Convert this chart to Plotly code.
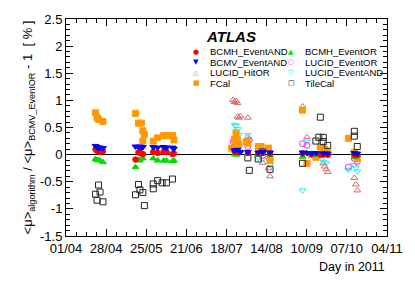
import plotly.graph_objects as go
from datetime import datetime, timedelta

# ---------------- data ----------------
bcmh_and_dates = ["2011-04-21", "2011-04-22", "2011-04-23", "2011-04-24", "2011-04-26",
                  "2011-05-18", "2011-05-20", "2011-05-21", "2011-05-22", "2011-05-23", "2011-05-30",
                  "2011-06-02", "2011-06-06", "2011-06-08", "2011-06-12", "2011-06-13",
                  "2011-07-24", "2011-07-25", "2011-07-27", "2011-08-02", "2011-08-09", "2011-08-12", "2011-08-17",
                  "2011-09-08", "2011-09-14", "2011-09-20", "2011-09-22", "2011-09-25",
                  "2011-10-13", "2011-10-15"]
bcmh_and_vals = [0.10, 0.07, 0.06, 0.05, 0.06,
                 -0.09, 0.04, 0.04, 0.02, 0.01, 0.05,
                 0.03, 0.05, 0.05, 0.01, 0.02,
                 0.06, 0.05, 0.04, 0.03, 0.02, 0.03, 0.02,
                 0.02, 0.01, 0.00, 0.01, 0.00,
                 0.00, -0.01]

bcmh_or_dates = ["2011-04-21", "2011-04-22", "2011-04-23", "2011-04-24", "2011-04-26",
                 "2011-05-18", "2011-05-20", "2011-05-21", "2011-05-23", "2011-05-30",
                 "2011-06-02", "2011-06-06", "2011-06-08", "2011-06-12", "2011-06-13",
                 "2011-07-24", "2011-07-25", "2011-08-02", "2011-08-09", "2011-08-17",
                 "2011-09-08", "2011-09-11", "2011-09-17", "2011-09-22",
                 "2011-10-13", "2011-10-15"]
bcmh_or_vals = [-0.08, -0.10, -0.10, -0.11, -0.14,
                -0.23, -0.11, -0.10, -0.07, -0.07,
                -0.11, -0.11, -0.11, -0.12, -0.11,
                0.01, 0.00, 0.02, 0.00, -0.01,
                -0.04, 0.03, 0.00, 0.01,
                -0.05, 0.00]

bcmv_and_dates = ["2011-04-21", "2011-04-22", "2011-04-23", "2011-04-24", "2011-04-26",
                  "2011-05-18", "2011-05-20", "2011-05-21", "2011-05-22", "2011-05-23", "2011-05-30",
                  "2011-06-02", "2011-06-06", "2011-06-08", "2011-06-12", "2011-06-13",
                  "2011-07-24", "2011-07-26", "2011-07-28", "2011-08-02", "2011-08-09", "2011-08-12", "2011-08-17",
                  "2011-09-08", "2011-09-11", "2011-09-14", "2011-09-17", "2011-09-22", "2011-09-25",
                  "2011-10-13", "2011-10-15"]
bcmv_and_vals = [0.16, 0.14, 0.12, 0.13, 0.12,
                 0.15, 0.14, 0.15, 0.13, 0.14, 0.14,
                 0.13, 0.14, 0.13, 0.13, 0.11,
                 0.08, 0.09, 0.05, 0.05, 0.04, 0.05, 0.04,
                 0.04, 0.03, 0.02, 0.03, 0.02, 0.02,
                 0.03, 0.02]

lucid_or_dates = ["2011-07-23", "2011-07-24", "2011-08-03", "2011-08-02", "2011-08-12", "2011-08-17",
                  "2011-09-08", "2011-09-11", "2011-09-20", "2011-09-22", "2011-09-25",
                  "2011-10-09", "2011-10-13", "2011-10-15"]
lucid_or_vals = [0.24, 0.15, 0.27, 0.15, -0.02, -0.09,
                 0.20, 0.17, 0.00, 0.00, 0.00,
                 -0.23, -0.07, -0.13]

lucid_hitor_dates = ["2011-07-23", "2011-07-24", "2011-07-25", "2011-07-26", "2011-07-26", "2011-07-28",
                     "2011-07-27", "2011-08-02", "2011-08-02", "2011-08-12", "2011-08-16", "2011-08-17",
                     "2011-09-08", "2011-09-11", "2011-09-22", "2011-09-23", "2011-09-24", "2011-09-25",
                     "2011-10-13", "2011-10-14", "2011-10-15"]
lucid_hitor_vals = [1.01, 0.97, 0.99, 0.95, 0.70, 0.71,
                    0.68, 0.68, 0.32, -0.15, -0.25, -0.40,
                    0.89, 0.32, -0.16, -0.22, -0.27, -0.32,
                    -0.43, -0.55, -0.66]

lucid_and_dates = ["2011-07-24", "2011-07-25", "2011-07-26", "2011-07-25", "2011-07-27", "2011-08-02",
                   "2011-08-09", "2011-08-12", "2011-08-17",
                   "2011-09-08", "2011-09-11", "2011-09-21", "2011-09-22", "2011-09-24",
                   "2011-10-09", "2011-10-13", "2011-10-14", "2011-10-15"]
lucid_and_vals = [0.55, 0.53, 0.47, 0.43, 0.37, 0.36,
                  -0.06, -0.09, -0.19,
                  -0.66, 0.24, -0.07, -0.13, -0.16,
                  -0.28, -0.19, -0.24, -0.31]

fcal_dates = ["2011-04-21", "2011-04-22", "2011-04-23", "2011-04-26",
              "2011-05-18", "2011-05-20", "2011-05-22", "2011-05-23", "2011-05-24", "2011-05-23",
              "2011-05-30", "2011-06-02", "2011-06-06", "2011-06-08", "2011-06-12", "2011-06-13",
              "2011-07-22", "2011-07-25", "2011-07-24", "2011-07-26", "2011-07-25", "2011-07-27",
              "2011-08-01", "2011-08-02", "2011-08-09", "2011-08-11", "2011-08-16", "2011-08-17",
              "2011-09-08", "2011-09-11", "2011-09-14", "2011-09-17", "2011-09-20", "2011-09-22",
              "2011-09-23", "2011-09-25",
              "2011-10-09", "2011-10-13", "2011-10-14", "2011-10-15"]
fcal_vals = [0.77, 0.68, 0.65, 0.61,
             0.76, 0.58, 0.58, 0.44, 0.37, 0.25,
             0.25, 0.31, 0.35, 0.35, 0.35, 0.27,
             0.12, 0.39, 0.28, 0.27, 0.21, 0.18,
             0.24, 0.21, 0.15, 0.15, 0.12, -0.10,
             0.82, -0.16, 0.00, -0.05, 0.14, 0.06,
             0.10, 0.04,
             0.30, 0.04, -0.01, -0.07]

tilecal_dates = ["2011-04-21", "2011-04-22", "2011-04-23", "2011-04-24", "2011-04-26",
                 "2011-05-18", "2011-05-20", "2011-05-21", "2011-05-23", "2011-05-24",
                 "2011-05-30", "2011-05-30", "2011-06-02", "2011-06-05", "2011-06-08", "2011-06-12",
                 "2011-08-02", "2011-08-03", "2011-08-09", "2011-08-12", "2011-08-17",
                 "2011-09-08", "2011-09-17", "2011-09-19", "2011-09-20", "2011-09-22", "2011-09-22",
                 "2011-09-25",
                 "2011-10-13", "2011-10-13", "2011-10-15"]
tilecal_vals = [-0.73, -0.84, -0.56, -0.69, -0.87,
                -0.74, -0.55, -0.65, -0.70, -0.94,
                -0.54, -0.63, -0.48, -0.52, -0.52, -0.45,
                -0.06, -0.29, -0.08, 0.05, -0.27,
                -0.16, 0.25, 0.32, 0.69, 0.32, 0.24,
                0.17,
                0.43, 0.34, 0.15]

x_tick_labels = ["01/04", "28/04", "25/05", "21/06", "18/07", "14/08", "10/09", "07/10", "04/11"]
y_tick_vals = [-1.5, -1, -0.5, 0, 0.5, 1, 1.5, 2, 2.5]
y_tick_labels = ["-1.5", "-1", "-0.5", "0", "0.5", "1", "1.5", "2", "2.5"]

# ---------------- figure ----------------
FONT = "Liberation Sans, Arial, sans-serif"
series = [
    ("LUCID_HitOR", lucid_hitor_dates, lucid_hitor_vals, "triangle-up-open", "#e06a6a", 6),
    ("LUCID_EventAND", lucid_and_dates, lucid_and_vals, "triangle-down-open", "#22eeee", 6),
    ("LUCID_EventOR", lucid_or_dates, lucid_or_vals, "circle-open", "#ff22ff", 6),
    ("FCal", fcal_dates, fcal_vals, "square", "#ff9900", 6),
    ("TileCal", tilecal_dates, tilecal_vals, "square-open", "#222222", 6),
    ("BCMH_EventOR", bcmh_or_dates, bcmh_or_vals, "triangle-up", "#00dd00", 6),
    ("BCMH_EventAND", bcmh_and_dates, bcmh_and_vals, "circle", "#ff0000", 5.5),
    ("BCMV_EventAND", bcmv_and_dates, bcmv_and_vals, "triangle-down", "#0000ff", 6),
]

fig = go.Figure()
for name, d, v, sym, col, sz in series:
    fig.add_trace(go.Scatter(
        x=d, y=v, mode="markers", name=name, showlegend=False,
        marker=dict(symbol=sym, color=col, size=sz, line=dict(color=col, width=1)),
    ))

start = datetime(2011, 4, 1)
step = timedelta(days=27.13)
x_tick_vals = [start + i * step for i in range(len(x_tick_labels))]
x_end = start + timedelta(days=217.1)

fig.update_layout(
    width=415, height=281,
    margin=dict(l=66, r=21, t=14, b=45),
    paper_bgcolor="white", plot_bgcolor="white",
    font=dict(family=FONT, size=13, color="black"),
    xaxis=dict(
        type="date", range=[start, x_end],
        tickmode="array", tickvals=x_tick_vals, ticktext=x_tick_labels,
        ticks="inside", ticklen=7, tickwidth=1, tickcolor="black",
        minor=dict(ticks="inside", ticklen=4, tickwidth=1, tickcolor="black",
                   tickmode="linear", tick0=start, dtick=27.13 * 86400000 / 4),
        showline=True, linecolor="black", linewidth=1, mirror="allticks",
        showgrid=False, zeroline=False,
        tickfont=dict(size=13),
    ),
    yaxis=dict(
        range=[-1.5, 2.5],
        tickmode="array", tickvals=y_tick_vals, ticktext=y_tick_labels,
        ticks="inside", ticklen=7, tickwidth=1, tickcolor="black",
        minor=dict(ticks="inside", ticklen=4, tickwidth=1, tickcolor="black",
                   tickmode="linear", tick0=0, dtick=0.1),
        showline=True, linecolor="black", linewidth=1, mirror="allticks",
        showgrid=False,
        zeroline=True, zerolinecolor="black", zerolinewidth=1.5,
        tickfont=dict(size=13),
        title=dict(
            text="&lt;μ&gt;<sub>algorithm</sub> / &lt;μ&gt;<sub>BCMV_EventOR</sub> - 1  [ % ]",
            font=dict(size=13), standoff=4,
        ),
    ),
)

# plot-area pixel helpers (for text placement only)
PL, PR, PT, PB = 66, 394, 14, 236
def px(x):
    return (x - PL) / (PR - PL)
def py(y):
    return (PB - y) / (PB - PT)

annotations = []
annotations.append(dict(text="ATLAS", x=px(207), y=py(32), xref="paper", yref="paper",
                        xanchor="left", yanchor="middle", showarrow=False,
                        font=dict(family=FONT, size=15, weight="bold", style="italic", color="black")))
annotations.append(dict(text="Day in 2011", x=px(394), y=py(268), xref="paper", yref="paper",
                        xanchor="right", yanchor="middle", showarrow=False,
                        font=dict(family=FONT, size=12.5, color="black")))

legend_items = [
    ("BCMH_EventAND", "●", "#ff0000", 0, 0),
    ("BCMV_EventAND", "▼", "#0000ff", 0, 1),
    ("LUCID_HitOR", "△", "#e06a6a", 0, 2),
    ("FCal", "■", "#ff9900", 0, 3),
    ("BCMH_EventOR", "▲", "#00dd00", 1, 0),
    ("LUCID_EventOR", "○", "#ff22ff", 1, 1),
    ("LUCID_EventAND", "▽", "#22eeee", 1, 2),
    ("TileCal", "□", "#222222", 1, 3),
]
col_marker_x = [199, 296]
col_text_x = [211, 308]
for name, glyph, col, c, r in legend_items:
    yy = 47.5 + 10.8 * r
    annotations.append(dict(text=glyph, x=px(col_marker_x[c]), y=py(yy), xref="paper", yref="paper",
                            xanchor="center", yanchor="middle", showarrow=False,
                            font=dict(family="DejaVu Sans", size=7, color=col)))
    annotations.append(dict(text=name, x=px(col_text_x[c]), y=py(yy), xref="paper", yref="paper",
                            xanchor="left", yanchor="middle", showarrow=False,
                            font=dict(family=FONT, size=9.5, color="black")))
fig.update_layout(annotations=annotations)

fig.write_html("out.html",
               config={"displayModeBar": False, "staticPlot": True},
               post_script="document.body.style.margin='0';document.body.style.overflow='hidden';")
